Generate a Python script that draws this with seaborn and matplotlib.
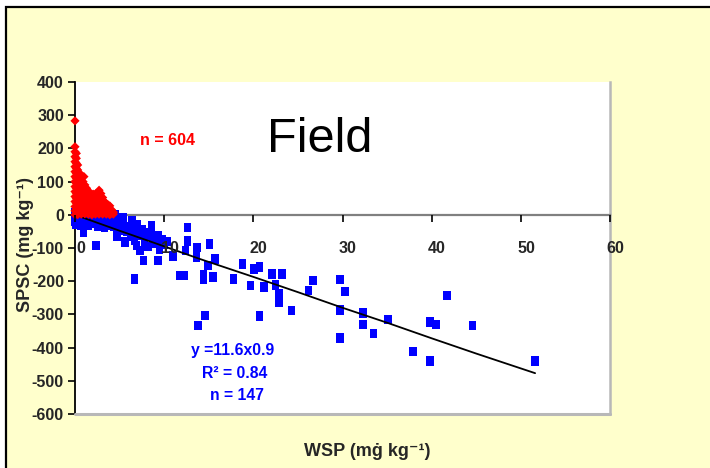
import matplotlib
matplotlib.use("Agg")
import matplotlib.pyplot as plt
import matplotlib.transforms as mtransforms
from matplotlib.patches import Rectangle
from matplotlib.markers import MarkerStyle
import seaborn as sns
import pandas as pd

# ---------------- data ----------------
blue_x = [0.0, 0.1, 0.2, 0.0, 0.3, 0.4, 0.5, 0.6, 0.8, 0.9, 1.0, 0.2, 0.1, 0.7, 1.2,
          1.4, 1.6, 1.8, 2.0, 2.2, 2.4, 2.6, 2.8, 3.0, 3.2, 3.4, 3.6, 3.8, 4.0, 4.2, 4.4, 4.5, 4.4, 1.5, 2.5, 3.3,
          4.7, 5.0, 5.2, 5.4, 5.4, 5.6, 5.8, 6.0, 6.2, 6.4, 6.4, 6.5, 6.7, 6.9, 7.0, 7.2, 7.3, 7.5, 7.7, 7.8,
          8.0, 8.2, 8.4, 8.6, 8.7, 9.0, 9.3, 9.3, 9.5, 9.8, 10.0, 10.3,
          0.93, 2.35, 6.7,
          11.0, 11.8, 12.3, 12.6, 12.6, 12.4, 13.7, 13.6, 15.1, 14.9, 14.4, 14.4, 15.5, 15.7, 14.6, 13.8,
          17.8, 18.8, 19.7, 20.1, 20.7, 20.7, 21.2, 22.1, 22.5, 22.9, 22.9, 23.2, 24.3, 26.2, 26.7,
          29.7, 30.3, 29.7, 29.7, 32.3, 32.3, 33.5, 35.1, 37.9, 39.8, 40.5, 39.8, 41.7, 44.6, 51.6]
blue_y = [5, -5, -15, -20, 0, -10, -22, -5, -15, -25, -8, 10, -28, -30, -18,
          -5, -20, -12, -25, -8, -18, -28, -10, -20, -5, -25, -15, -30, -8, -22, -35, 0, -12, -32, -35, -38,
          -63, -45, -30, -8, -22, -82, -50, -35, -65, -18, -45, -52, -75, -93, -30, -60, -108, -45, -138, -80,
          -55, -95, -63, -33, -75, -85, -63, -138, -103, -75, -90, -80,
          -53, -93, -193,
          -125, -183, -183, -38, -78, -108, -98, -128, -88, -153, -180, -195, -188, -133, -303, -333,
          -193, -148, -213, -163, -158, -305, -218, -178, -211, -238, -263, -178, -288, -228, -198,
          -195, -231, -286, -372, -296, -330, -357, -315, -412, -322, -330, -440, -243, -333, -440]

red_x = ([0.0] * 16 + [0.15] * 13 + [0.3] * 11 + [0.5] * 9 + [0.7] * 8 + [0.9] * 7 + [1.0] +
         [1.1] * 7 + [1.3] * 6 + [1.5] * 6 + [1.7] * 4 + [1.9] * 4 + [2.1] * 4 + [2.3] * 5 +
         [2.5] * 4 + [2.7] * 5 + [2.9] * 4 + [3.1] * 4 + [3.3] * 3 + [3.5] * 3 + [3.7] * 3 +
         [3.9] * 3 + [4.1] * 2 + [4.3] * 2)
red_y = [0, 12, 25, 40, 55, 70, 85, 100, 115, 130, 145, 160, 175, 190, 205, 283,
         5, 20, 35, 50, 65, 80, 95, 110, 125, 140, 155, 170, 185,
         0, 15, 30, 45, 60, 75, 90, 105, 120, 135, 150,
         8, 22, 38, 52, 68, 82, 98, 112, 126,
         2, 18, 32, 48, 62, 78, 92, 108,
         10, 25, 40, 55, 70, 85, 100,
         115,
         3, 18, 33, 48, 62, 78, 90,
         10, 25, 40, 55, 70, 80,
         2, 17, 32, 47, 60, 72,
         8, 22, 38, 64,
         0, 15, 30, 62,
         8, 22, 48, 62,
         2, 16, 32, 55, 63,
         10, 24, 45, 66,
         2, 18, 35, 58, 74,
         10, 26, 45, 64,
         2, 18, 35, 52,
         10, 26, 40,
         2, 18, 34,
         8, 22, 30,
         0, 14, 27,
         5, 15,
         2, 8]

trend_x = [0, 5, 10, 14, 20, 25, 30, 35, 40, 45, 51.6]
trend_y = [0, -48, -95, -133, -187, -233, -280, -325, -372, -418, -477]

x_ticks = [0, 10, 20, 30, 40, 50, 60]
y_ticks = [400, 300, 200, 100, 0, -100, -200, -300, -400, -500, -600]

# ---------------- style ----------------
sns.set_theme(style="white")
plt.rcParams["font.family"] = ["Liberation Sans", "DejaVu Sans"]

W, H = 710, 468
fig = plt.figure(figsize=(W / 100, H / 100), dpi=100)
fig.patch.set_facecolor("white")
# yellow chart area with black border (top/left visible)
bg = Rectangle((6 / W, -0.05), 1.2, 1 - 7 / H + 0.05, transform=fig.transFigure,
               facecolor="#FFFFCC", edgecolor="black", linewidth=1.6, zorder=-10)
fig.patches.append(bg)

L, R, T, B = 75, 610, 82, 414
ax = fig.add_axes([L / W, 1 - B / H, (R - L) / W, (B - T) / H])
ax.set_zorder(1)
ax.set_facecolor("white")

blue_df = pd.DataFrame({"x": blue_x, "y": blue_y})
red_df = pd.DataFrame({"x": red_x, "y": red_y})
trend_df = pd.DataFrame({"x": trend_x, "y": trend_y})

rect_marker = MarkerStyle([(-0.39, -0.5), (0.39, -0.5), (0.39, 0.5), (-0.39, 0.5), (-0.39, -0.5)])
sns.scatterplot(data=blue_df, x="x", y="y", ax=ax, marker=rect_marker, s=48,
                color="#0000FF", edgecolor="none", linewidth=0, zorder=3, clip_on=False)
sns.lineplot(data=trend_df, x="x", y="y", ax=ax, color="black", linewidth=1.3, zorder=4,
             estimator=None, sort=False)
sns.scatterplot(data=red_df, x="x", y="y", ax=ax, marker="D", s=22,
                color="#FF0000", edgecolor="none", linewidth=0, zorder=5, clip_on=False)

ax.set_xlim(0, 60)
ax.set_ylim(-600, 400)
ax.set_xticks(x_ticks)
ax.set_yticks(y_ticks)
ax.set_xticklabels([str(v) for v in x_ticks])
ax.set_yticklabels([str(v) for v in y_ticks])

ax.spines["top"].set_visible(False)
ax.spines["right"].set_visible(True)
ax.spines["right"].set_color("#B8B8B8")
ax.spines["right"].set_linewidth(1.8)
ax.spines["left"].set_color("black")
ax.spines["left"].set_linewidth(1.3)
ax.spines["bottom"].set_position(("data", 0))
ax.spines["bottom"].set_color("#808080")
ax.spines["bottom"].set_linewidth(1.6)
# plot-area bottom border
ax.axhline(-600, color="#B8B8B8", linewidth=2.2, clip_on=False, zorder=6)

ax.tick_params(axis="y", direction="out", length=5, width=1.2, color="black", pad=3,
               labelsize=11.5, left=True, right=False)
ax.tick_params(axis="x", direction="out", length=5, width=1.2, color="black", pad=14,
               labelsize=11.5, bottom=True)
ax.xaxis.set_zorder(8)
for lab in ax.get_xticklabels() + ax.get_yticklabels():
    lab.set_fontweight("bold")
offset = mtransforms.ScaledTranslation(5.5 / 100, 0, fig.dpi_scale_trans)
for lab in ax.get_xticklabels():
    lab.set_transform(lab.get_transform() + offset)

ax.set_xlabel("WSP (mġ kg⁻¹)", fontsize=13, fontweight="bold")
ax.set_ylabel("SPSC (mg kg⁻¹)", fontsize=13, fontweight="bold")
ax.xaxis.set_label_coords((367.5 - L) / (R - L), (B - 452) / (B - T))
ax.xaxis.label.set_va("center")
ax.yaxis.set_label_coords((25 - L) / (R - L), (B - 245) / (B - T))
ax.yaxis.label.set_va("center")

def axpos(px, py):
    return ((px - L) / (R - L), (B - py) / (B - T))

ax.text(*axpos(320, 140), "Field", transform=ax.transAxes, fontsize=35,
        ha="center", va="center", color="black", zorder=7)
ax.text(*axpos(168, 141), "n = 604", transform=ax.transAxes, fontsize=11.5,
        fontweight="bold", ha="center", va="center", color="#FF0000", zorder=7)
ax.text(*axpos(233, 350), "y =11.6x0.9", transform=ax.transAxes, fontsize=11.3,
        fontweight="bold", ha="center", va="center", color="#0000FF", zorder=7)
ax.text(*axpos(235, 374), "R² = 0.84", transform=ax.transAxes, fontsize=11.3,
        fontweight="bold", ha="center", va="center", color="#0000FF", zorder=7)
ax.text(*axpos(237, 396), "n = 147", transform=ax.transAxes, fontsize=11.3,
        fontweight="bold", ha="center", va="center", color="#0000FF", zorder=7)

fig.savefig("out.png", dpi=100, facecolor=fig.get_facecolor())
